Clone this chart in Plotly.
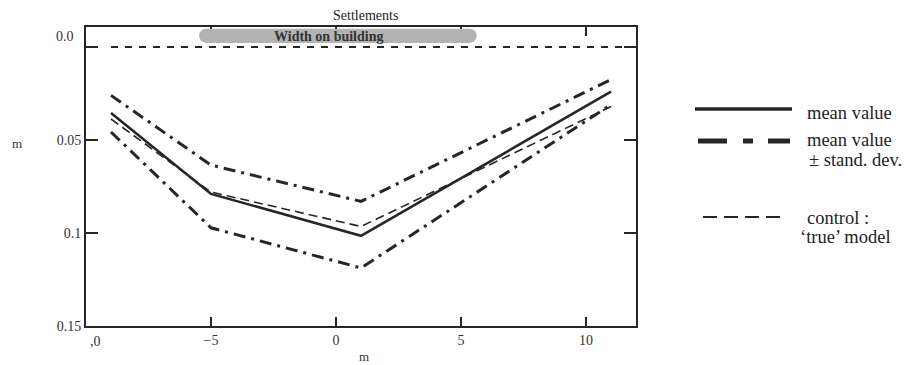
import plotly.graph_objects as go

# ---- data ----
x_pos = [-9, -5, 1, 11]
mean_value = [0.0355, 0.079, 0.1015, 0.024]
mean_minus_sd = [0.026, 0.0635, 0.083, 0.0175]
mean_plus_sd = [0.0457, 0.0972, 0.1188, 0.031]
control_true = [0.0387, 0.078, 0.0965, 0.032]
control_base_x = [-9, 12]
control_base_y = [0.0, 0.0]
building_x = [-5.2, 5.35]

x_ticks = [-10, -5, 0, 5, 10]
x_ticktext = ["", "\u22125", "0", "5", "10"]
y_ticks = [0.0, 0.05, 0.1, 0.15]
y_ticktext = ["", "0.05", "0.1", "0.15"]

# ---- layout geometry (page body has an 8px margin) ----
OFF = 8
W, H = 913 - OFF, 365 - OFF
L, T = 86 - OFF, 27 - OFF
R = W - (636 - OFF)
B = H - (326 - OFF)
PW, PH = W - L - R, H - T - B

def px(xp):
    return (xp - OFF - L) / PW

def py(yp):
    return (H - B - (yp - OFF)) / PH

SERIF = "Liberation Serif, Times New Roman, serif"
INK = "#262626"

fig = go.Figure()

dashdot = "12px,6px,3px,6px"

fig.add_trace(go.Scatter(x=control_base_x, y=control_base_y, mode="lines",
                         line=dict(color=INK, width=1.8, dash="7px,7px"),
                         showlegend=False, hoverinfo="skip"))
fig.add_trace(go.Scatter(x=x_pos, y=mean_minus_sd, mode="lines",
                         line=dict(color=INK, width=3, dash=dashdot),
                         showlegend=False))
fig.add_trace(go.Scatter(x=x_pos, y=mean_plus_sd, mode="lines",
                         line=dict(color=INK, width=3, dash=dashdot),
                         showlegend=False))
fig.add_trace(go.Scatter(x=x_pos, y=control_true, mode="lines",
                         line=dict(color=INK, width=1.6, dash="9px,5px"),
                         showlegend=False))
fig.add_trace(go.Scatter(x=x_pos, y=mean_value, mode="lines",
                         line=dict(color=INK, width=2.6),
                         showlegend=False))

shapes = []
# building bar (gray, rounded)
by0, by1 = -0.0098, -0.0022
rx = 0.28
shapes.append(dict(type="rect", xref="x", yref="y", x0=building_x[0], x1=building_x[1],
                   y0=by0, y1=by1, fillcolor="#b3b3b3", line=dict(width=0), layer="above"))
for bx in building_x:
    shapes.append(dict(type="circle", xref="x", yref="y", x0=bx - rx, x1=bx + rx,
                       y0=by0, y1=by1, fillcolor="#b3b3b3", line=dict(width=0), layer="above"))

# legend samples
shapes.append(dict(type="line", xref="paper", yref="paper", x0=px(695), x1=px(792),
                   y0=py(109), y1=py(109), line=dict(color=INK, width=3.5)))
shapes.append(dict(type="line", xref="paper", yref="paper", x0=px(698), x1=px(790),
                   y0=py(141), y1=py(141), line=dict(color=INK, width=5, dash="29px,16px,10px,15px")))
shapes.append(dict(type="line", xref="paper", yref="paper", x0=px(703), x1=px(780),
                   y0=py(217), y1=py(217), line=dict(color=INK, width=2, dash="14px,7px")))

annotations = []
annotations.append(dict(text="<b>Width on building</b>", x=-0.3, y=-0.0059, xref="x", yref="y",
                        showarrow=False, font=dict(family=SERIF, size=14, color="#333"),
                        xanchor="center", yanchor="middle"))
annotations.append(dict(text="Settlements", x=px(365), y=py(15), xref="paper", yref="paper",
                        showarrow=False, font=dict(family=SERIF, size=14, color="#222"),
                        xanchor="center", yanchor="middle"))
annotations.append(dict(text="m", x=px(17), y=py(143), xref="paper", yref="paper",
                        showarrow=False, font=dict(family=SERIF, size=13, color="#333"),
                        xanchor="center", yanchor="middle"))
annotations.append(dict(text="m", x=px(364), y=py(356), xref="paper", yref="paper",
                        showarrow=False, font=dict(family=SERIF, size=13, color="#333"),
                        xanchor="center", yanchor="middle"))
# offset tick labels as printed in the original
annotations.append(dict(text="0.0", x=px(76), y=py(37), xref="paper", yref="paper",
                        showarrow=False, font=dict(family=SERIF, size=14, color="#333"),
                        xanchor="right", yanchor="middle"))
annotations.append(dict(text=",0", x=px(95), y=py(341), xref="paper", yref="paper",
                        showarrow=False, font=dict(family=SERIF, size=14, color="#333"),
                        xanchor="center", yanchor="middle"))

legend_texts = [
    ("mean value", 805, 113),
    ("mean value", 805, 140),
    ("\u00b1 stand. dev.", 807, 160),
    ("control :", 805, 218),
    ("\u2018true\u2019 model", 798, 237),
]
for t, xx, yy in legend_texts:
    annotations.append(dict(text=t, x=px(xx), y=py(yy), xref="paper", yref="paper",
                            showarrow=False, font=dict(family=SERIF, size=18.5, color="#222"),
                            xanchor="left", yanchor="middle"))

fig.update_layout(
    width=W, height=H,
    margin=dict(l=L, r=R, t=T, b=B, pad=0),
    paper_bgcolor="white", plot_bgcolor="white",
    shapes=shapes, annotations=annotations,
    showlegend=False,
    xaxis=dict(range=[-10, 12], tickvals=x_ticks, ticktext=x_ticktext,
               showgrid=False, zeroline=False, showline=True, linecolor=INK, linewidth=2,
               mirror="ticks", ticks="inside", ticklen=9, tickwidth=1.5, tickcolor=INK,
               tickfont=dict(family=SERIF, size=14, color="#333")),
    yaxis=dict(range=[0.15, -0.01075], tickvals=y_ticks, ticktext=y_ticktext,
               showgrid=False, zeroline=False, showline=True, linecolor=INK, linewidth=2,
               mirror="ticks", ticks="inside", ticklen=12, tickwidth=1.5, tickcolor=INK,
               tickfont=dict(family=SERIF, size=14, color="#333")),
)

fig.write_html("out.html")
